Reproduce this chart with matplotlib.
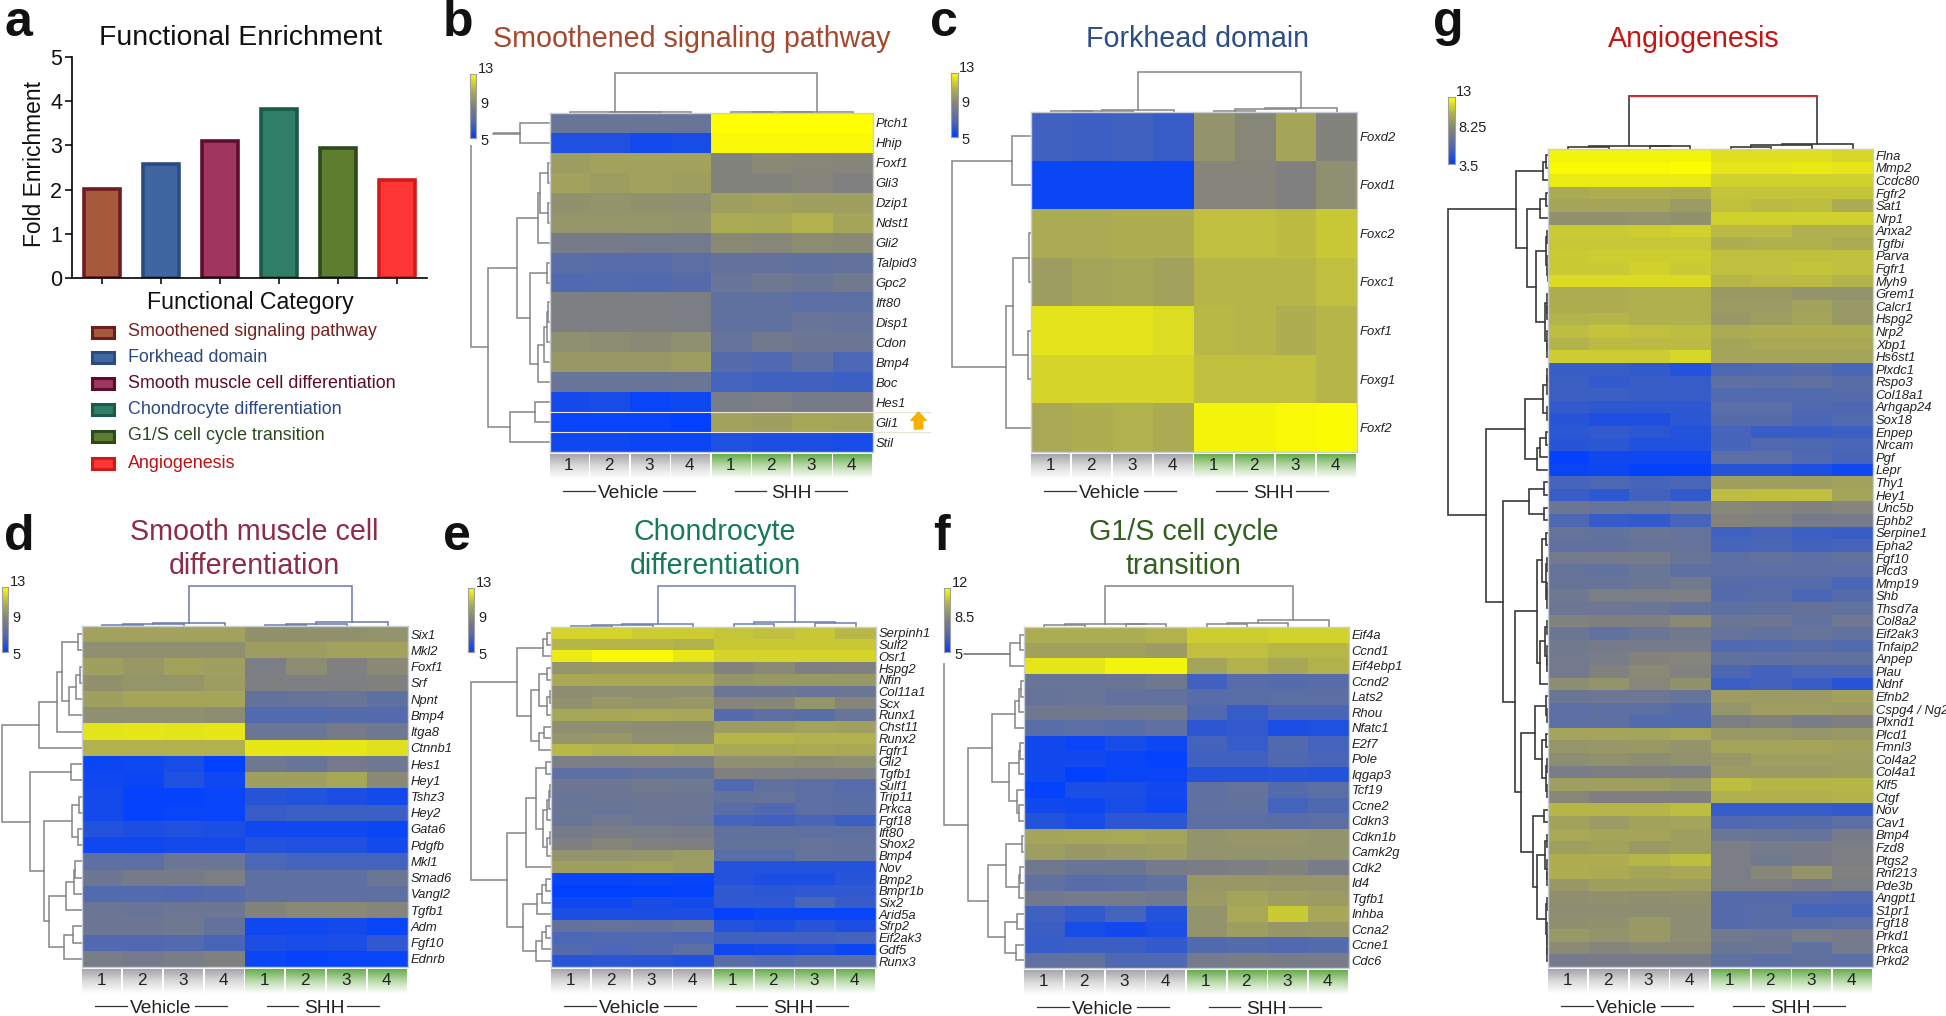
import numpy as np
import matplotlib
matplotlib.use("Agg")
import matplotlib.pyplot as plt
from matplotlib.colors import LinearSegmentedColormap, TwoSlopeNorm
from matplotlib.patches import Rectangle

plt.rcParams['font.family'] = ['Liberation Sans', 'DejaVu Sans']

W = 1946
H = 1016

# panel a
categories = ["Smoothened signaling pathway", "Forkhead domain", "Smooth muscle cell differentiation",
              "Chondrocyte differentiation", "G1/S cell cycle transition", "Angiogenesis"]
fold_enrichment = [2.01, 2.59, 3.09, 3.82, 2.93, 2.22]

# panel b
b_genes = ["Ptch1", "Hhip", "Foxf1", "Gli3", "Dzip1", "Ndst1", "Gli2", "Talpid3", "Gpc2", "Ift80", "Disp1",
           "Cdon", "Bmp4", "Boc", "Hes1", "Gli1", "Stil"]
b_values = [
    [8.0, 8.0, 8.0, 8.0, 13, 13, 13, 13],
    [5.8, 5.8, 5.5, 5.6, 12.8, 12.8, 12.8, 12.8],
    [10.2, 10.4, 10.4, 10.4, 9.1, 9.4, 9.3, 9.2],
    [10.4, 10.2, 10.4, 10.3, 9.1, 9.1, 9.2, 9.0],
    [9.7, 9.8, 9.7, 9.6, 10.3, 10.4, 10.3, 10.3],
    [9.9, 9.9, 9.9, 9.8, 10.8, 10.7, 11, 10.5],
    [8.6, 8.6, 8.5, 8.5, 9.4, 9.3, 9.5, 9.4],
    [7.4, 7.3, 7.3, 7.5, 7.8, 7.8, 7.7, 7.8],
    [7.0, 7.1, 7.0, 7.2, 8, 8.3, 8.1, 8.4],
    [8.9, 8.9, 8.9, 8.8, 7.7, 7.7, 7.5, 7.5],
    [8.9, 8.9, 8.9, 8.8, 7.7, 7.7, 8, 7.9],
    [9.6, 9.5, 9.4, 9.6, 7.9, 8.4, 8.2, 8.1],
    [10, 10, 10, 10.2, 7.2, 7.0, 7.6, 6.9],
    [8, 8, 8, 8.1, 6.7, 6.6, 6.6, 6.5],
    [5.5, 5.6, 5.2, 5.4, 8.7, 8.8, 8.6, 8.6],
    [5.2, 5.2, 5.2, 5, 10.4, 10.3, 10.6, 10.5],
    [5.4, 5.4, 5.3, 5.3, 5.8, 5.7, 5.7, 5.6],
]
b_tree = (79, (29, 0, 1), (62, (32, (11, (9, (1, 2, 3), (1, 4, 5)), 6),
                                (19, (2, 7, 8), (11, (5, (2, (1, 9, 10), 11), 12), 13))),
                           (39, (14, 14, 15), 16)))
b_col_tree = (40, (1, 0, (1, (1, 1, 2), 3)), (1, (1, (1, 4, 5), 6), 7))

# panel c
c_genes = ["Foxd2", "Foxd1", "Foxc2", "Foxc1", "Foxf1", "Foxg1", "Foxf2"]
c_values = [
    [6.6, 6.5, 6.6, 6.4, 9.8, 9.3, 10.5, 9.1],
    [5.3, 5.3, 5.3, 5.3, 9.2, 9.2, 9.0, 9.6],
    [10.8, 10.8, 10.9, 10.9, 11.4, 11.4, 11.3, 11.6],
    [10.2, 10.5, 10.6, 10.4, 11.1, 11.1, 11.1, 11.4],
    [12.3, 12.3, 12.3, 12.1, 11.2, 11.1, 10.9, 11.1],
    [11.9, 11.9, 11.9, 11.9, 11.4, 11.4, 11.4, 11.1],
    [10.7, 10.9, 11, 10.8, 12.7, 12.7, 12.8, 12.9],
]
c_tree = (79, (19, 0, 1), (25, (18, (2, 2, 3), (3, 4, 5)), 6))
c_col_tree = (40, (2, (1.5, (1, 0, 1), 2), 3), (4, (3, (1.5, 4, 5), 6), 7))

# panel d
d_genes = ["Six1", "Mkl2", "Foxf1", "Srf", "Npnt", "Bmp4", "Itga8", "Ctnnb1", "Hes1", "Hey1", "Tshz3", "Hey2",
           "Gata6", "Pdgfb", "Mkl1", "Smad6", "Vangl2", "Tgfb1", "Adm", "Fgf10", "Ednrb"]
d_values = [
    [10.4, 10.4, 10.4, 10.4, 9.7, 9.7, 9.7, 9.8],
    [9.6, 9.6, 9.6, 9.6, 10.2, 10.2, 10.4, 10.4],
    [10.3, 10, 10.4, 10.3, 8.8, 9.5, 9, 9.4],
    [9.7, 9.9, 9.9, 10.2, 8.9, 8.9, 8.9, 9],
    [10.3, 10.5, 10.5, 10.5, 7.8, 7.9, 8, 7.6],
    [9.6, 9.6, 9.6, 9.5, 7.1, 7.1, 7.2, 7.2],
    [12.3, 12.4, 12.3, 12.4, 8.1, 8.1, 8.6, 8.3],
    [11, 11, 11, 11, 12.4, 12.4, 12.4, 12.2],
    [5.3, 5.4, 5.6, 5.0, 8.3, 8, 8.5, 8.3],
    [5.4, 5.3, 5.8, 5.4, 10.3, 10.3, 10.6, 9.4],
    [5.5, 5.1, 5.1, 5.2, 6, 5.9, 5.7, 5.5],
    [5.5, 5.1, 5.2, 5.2, 6.4, 6.5, 6.5, 6.5],
    [5.9, 5.7, 5.8, 5.7, 5.4, 5.4, 5.4, 5.3],
    [5.4, 5.4, 5.5, 5.5, 5.9, 5.8, 5.8, 5.5],
    [7.6, 7.5, 8.1, 8.1, 6.9, 6.7, 6.7, 6.7],
    [8.2, 8.6, 8.6, 8.8, 7.6, 7.6, 7.6, 8.1],
    [7.1, 7.1, 7, 7.2, 7.6, 7.6, 7.6, 7.6],
    [8.1, 8, 8.2, 8.2, 9.1, 9.4, 9.4, 9.2],
    [8.2, 8.2, 8.3, 7.8, 5.4, 5.4, 5.5, 5.2],
    [7, 7, 7.1, 6.8, 5.7, 5.6, 5.7, 6.2],
    [8.7, 8.5, 8.7, 9, 5.3, 5.1, 5.2, 5.2],
]
d_tree = (80, (43, (25, (20, (4, 0, 1), (13, (6, (2, 2, 3), 4), 5)), 6), 7),
          (52, (11, 8, 9), (38, (10, (3, 10, 11), (4, 12, 13)),
                            (33, (16, (8, (7, 14, 15), 16), 17), (18, (9, 18, 19), 20)))))
d_col_tree = (40, (3, (2.5, (1.5, 0, 1), 2), 3), (4, (2, (1.5, 4, 5), 6), 7))

# panel e
e_genes = ["Serpinh1", "Sulf2", "Osr1", "Hspg2", "Nfin", "Col11a1", "Scx", "Runx1", "Chst11", "Runx2", "Fgfr1",
           "Gli2", "Tgfb1", "Sulf1", "Trip11", "Prkca", "Fgf18", "Ift80", "Shox2", "Bmp4", "Nov", "Bmp2", "Bmpr1b",
           "Six2", "Arid5a", "Sfrp2", "Eif2ak3", "Gdf5", "Runx3"]
e_values = [
    [11.9, 11.9, 11.7, 11.7, 11.5, 11.4, 11.6, 11.2],
    [11.1, 11.1, 11.1, 11, 11.6, 11.6, 11.6, 11.6],
    [12.5, 12.8, 12.8, 12.4, 11.9, 11.9, 11.9, 11.9],
    [9.9, 10, 10, 10, 9.1, 9.4, 8.9, 9],
    [10.7, 10.7, 10.7, 10.7, 9.9, 10, 10, 10],
    [9.5, 9.6, 9.6, 9.6, 8.1, 8.2, 8, 8.1],
    [9.7, 10, 9.9, 10, 9.2, 9.3, 9.9, 9.2],
    [10.6, 10.6, 10.7, 10.6, 7.2, 7.6, 7.4, 8],
    [9.6, 9.6, 9.5, 9.5, 10.2, 10.2, 10.4, 10.3],
    [9.9, 10, 9.6, 9.6, 11.1, 11.1, 11, 11],
    [11.2, 11, 11.1, 11, 10.7, 10.7, 10.8, 10.7],
    [8.8, 8.8, 8.8, 8.8, 9.6, 9.6, 9.5, 9.6],
    [7.6, 7.6, 7.8, 7.8, 9, 8.9, 8.9, 8.9],
    [8.2, 8.2, 8.4, 8.3, 7, 7.7, 7.5, 7.2],
    [8, 8.1, 8.2, 8.1, 7.8, 7.9, 7.5, 7.4],
    [8.1, 8, 8.1, 8.1, 7.4, 7.0, 7.5, 7.5],
    [8, 8.4, 8.1, 8, 6.7, 6.6, 6.8, 6.5],
    [8.6, 8.7, 8.7, 8.6, 7.7, 7.7, 7.6, 7.6],
    [8.9, 9.2, 9, 8.9, 7.8, 7.8, 7.9, 7.8],
    [9.8, 9.8, 9.9, 10.1, 7.4, 7.4, 7.9, 7.8],
    [10.3, 10.3, 10.4, 10.2, 5.9, 5.9, 5.9, 5.9],
    [5.2, 5.2, 5.3, 5.2, 5.9, 5.7, 5.7, 6],
    [5.0, 5, 5, 5.1, 6.2, 6.1, 6.2, 6.2],
    [5.4, 5.4, 5.6, 5.5, 6.2, 6.2, 6.8, 6.4],
    [5.7, 5.7, 5.7, 5.7, 5.1, 5.3, 5.2, 5.2],
    [7.8, 7.9, 7.8, 8, 5.9, 5.7, 6, 5.7],
    [6.9, 7, 7, 6.9, 6.6, 6.6, 6.6, 6.7],
    [7.1, 6.9, 7, 7.5, 5.4, 5.5, 5.6, 5.3],
    [6, 6.1, 6, 5.8, 7.4, 7.1, 7.4, 7.4],
]
e_tree = (80, (34, (8, (4, 0, 1), 2), (20, (12, (4, 3, 4), (4, (1, 5, 6), 7)), (12, (7, 8, 9), 10))),
          (44, (25, (15, (5, 11, 12), (8, (4, (2, (1, 13, 14), 15), 16), (4, (1, 17, 18), 19))), 20),
           (28, (14, (9, (5, 21, 22), 23), 24), (15, (9, (5, 25, 26), 27), 28))))
e_col_tree = (41, (3, (2.5, (1.5, 0, 1), 2), 3), (5, (3, 4, 5), (4, 6, 7)))

# panel f
f_genes = ["Eif4a", "Ccnd1", "Eif4ebp1", "Ccnd2", "Lats2", "Rhou", "Nfatc1", "E2f7", "Pole", "Iqgap3", "Tcf19",
           "Ccne2", "Cdkn3", "Cdkn1b", "Camk2g", "Cdk2", "Id4", "Tgfb1", "Inhba", "Ccna2", "Ccne1", "Cdc6"]
f_values = [
    [10.1, 10.1, 10.1, 10.3, 10.9, 10.9, 11, 11],
    [9.7, 9.7, 9.7, 9.5, 10.6, 10.6, 10.4, 10.4],
    [11.4, 11.4, 11.7, 11.7, 9.8, 10.3, 9.9, 10.3],
    [7.6, 7.6, 7.7, 7.9, 6.4, 7, 6.9, 7],
    [7.5, 7.6, 7.4, 7.4, 7, 7.1, 7.2, 7.2],
    [7.9, 7.9, 7.9, 8, 6.8, 6.2, 6.6, 6.6],
    [7.1, 7.2, 7.1, 7.3, 6, 6.1, 5.6, 5.7],
    [5.4, 5.2, 5.5, 5.3, 6.5, 6.2, 6.8, 6.5],
    [5.4, 5.4, 5.2, 5.1, 6.4, 6.4, 6.7, 6.6],
    [5.4, 5, 5.2, 5.2, 5.8, 5.8, 5.9, 5.8],
    [5.1, 5.6, 5.6, 5.4, 7.3, 7.5, 6.9, 7.2],
    [5.4, 5.3, 5.5, 5.3, 7.3, 7.4, 6.5, 6.7],
    [5.8, 5.5, 6, 6, 7.2, 7.2, 7.1, 7.2],
    [9.8, 9.9, 10, 9.8, 9.2, 9.3, 9.3, 9.2],
    [9.6, 9.4, 9.5, 9.6, 9.2, 9.2, 9.2, 9.2],
    [7.9, 7.7, 7.7, 8.1, 8.3, 8.4, 8.6, 8.2],
    [7.3, 7, 7.1, 7.3, 9.4, 9.4, 9.3, 9.3],
    [8, 8.1, 8.1, 8, 9.5, 9.8, 9.6, 9.5],
    [6.4, 6.1, 6.5, 5.8, 9.2, 10, 10.8, 9.9],
    [6.3, 5.5, 5.4, 5.6, 9.2, 9.6, 9.3, 9.4],
    [6.2, 6.3, 6.3, 6.1, 6.8, 6.9, 6.8, 6.9],
    [7.3, 7.4, 6.7, 6.7, 8.1, 8.3, 8.2, 8.2],
]
f_tree = (80, (14, (4, 0, 1), 2),
          (56, (32, (9, (5, (3, 3, 4), 5), 6), (15, (5, (4, 7, 8), 9), (7, 10, (5, 11, 12)))),
           (36, (18, (2, 13, 14), (5, (4, 15, 16), 17)), (19, (7, 18, 19), (8, 20, 21)))))
f_col_tree = (41, (3, (2, 0, 1), (3, 2, 3)), (7, (4, (3, 4, 5), 6), 7))

# panel g
g_genes = ["Flna", "Mmp2", "Ccdc80", "Fgfr2", "Sat1", "Nrp1", "Anxa2", "Tgfbi", "Parva", "Fgfr1", "Myh9", "Grem1",
           "Calcr1", "Hspg2", "Nrp2", "Xbp1", "Hs6st1", "Plxdc1", "Rspo3", "Col18a1", "Arhgap24", "Sox18", "Enpep",
           "Nrcam", "Pgf", "Lepr", "Thy1", "Hey1", "Unc5b", "Ephb2", "Serpine1", "Epha2", "Fgf10", "Plcd3", "Mmp19",
           "Shb", "Thsd7a", "Col8a2", "Eif2ak3", "Tnfaip2", "Anpep", "Plau", "Ndnf", "Efnb2", "Cspg4 / Ng2", "Plxnd1",
           "Plcd1", "Fmnl3", "Col4a2", "Col4a1", "Klf5", "Ctgf", "Nov", "Cav1", "Bmp4", "Fzd8", "Ptgs2", "Rnf213",
           "Pde3b", "Angpt1", "S1pr1", "Fgf18", "Prkd1", "Prkca", "Prkd2"]
g_values = [
    [12.6, 12.6, 12.6, 12.6, 12, 12, 12, 11.8],
    [12.8, 12.8, 12.8, 12.9, 12.2, 12.2, 12.3, 12.2],
    [12.4, 12.4, 12.4, 12.4, 11.6, 11.6, 11.6, 11.6],
    [10.3, 10.5, 10.5, 10.4, 11.2, 11.2, 11.2, 11.2],
    [10.1, 10.1, 10.1, 9.6, 11.1, 10.9, 11, 10.4],
    [9.1, 9.1, 9.2, 9.1, 11.6, 11.6, 11.6, 11.6],
    [11.4, 11.4, 11.5, 11.6, 10.9, 10.9, 10.6, 10.6],
    [11.3, 11.3, 11.3, 11.3, 10.5, 10.6, 10.6, 10.4],
    [11.4, 11.5, 11.5, 11.5, 11.1, 11.1, 11.1, 11.1],
    [11.4, 11.4, 11.6, 11.4, 11.1, 11.1, 11.2, 11.1],
    [11.9, 11.9, 11.9, 11.9, 10.8, 10.9, 10.9, 10.7],
    [10.5, 10.5, 10.6, 10.6, 9.5, 9.5, 9.2, 9.2],
    [10.5, 10.5, 10.6, 10.6, 9.6, 9.6, 9.9, 9.5],
    [10.7, 10.8, 10.6, 10.6, 9.4, 9.7, 10.1, 9.5],
    [11, 11.2, 11.1, 11, 10.4, 10.5, 10.5, 10.5],
    [10.7, 10.9, 10.9, 10.9, 10.1, 10.2, 10.2, 10.2],
    [11.5, 11.5, 11.5, 11.8, 10, 10.1, 10.1, 10.1],
    [5.2, 5.2, 5, 4.6, 5.8, 5.9, 6.1, 5.7],
    [5.3, 5, 5.2, 5.1, 6.6, 6.5, 6.7, 6.3],
    [5.3, 5.3, 5.2, 5.2, 6, 6, 6, 6.1],
    [5, 4.9, 4.9, 4.9, 6.4, 6.4, 5.9, 5.8],
    [4.7, 4.4, 4.4, 4.8, 6.2, 6.2, 5.7, 6],
    [4.8, 5, 4.8, 4.6, 5.6, 5.2, 5.2, 5.3],
    [4.7, 4.8, 4.5, 4.5, 5.6, 5.9, 5.8, 5.7],
    [3.6, 4, 4, 4, 6.4, 6.4, 5.9, 5.6],
    [3.8, 3.9, 3.6, 3.6, 4.7, 4.7, 4.4, 4],
    [5.6, 5.8, 5.6, 5.7, 9.8, 9.8, 9.7, 9.9],
    [5.2, 4.9, 5.5, 5, 11, 11.1, 11.1, 10],
    [7.2, 6.9, 6.9, 7.2, 8.6, 8.5, 8.3, 8.5],
    [5.8, 5.1, 5, 5.6, 8.4, 8.3, 7.8, 7.7],
    [6.9, 6.8, 7.1, 6.9, 5.4, 5.6, 5.3, 5.2],
    [6.7, 6.7, 6.9, 6.9, 5.6, 5.7, 5.5, 5.6],
    [7.6, 7.7, 7.7, 7.1, 6.5, 6.8, 6.5, 6.8],
    [6.9, 6.8, 7.2, 6.6, 6.5, 6.5, 6.5, 6.4],
    [7, 7, 7.2, 7.5, 6.2, 6.1, 6.1, 5.7],
    [7.4, 8, 8, 8.1, 6.2, 6.3, 5.7, 6.2],
    [7.2, 7.3, 7.2, 6.9, 6.6, 6.7, 6.9, 6.8],
    [8.3, 8.2, 8.2, 8.7, 7.2, 7.3, 6.8, 7.4],
    [7.2, 6.8, 7.2, 7.5, 6.9, 6.8, 7, 6.8],
    [7.5, 7.7, 7.7, 7.7, 5.9, 6, 6.3, 6],
    [7.6, 7.9, 8.4, 8.5, 6.7, 6.6, 6.7, 6.7],
    [7.6, 8.3, 8.7, 8.3, 5.8, 5.5, 5.7, 5.8],
    [8.9, 9.2, 8.6, 9.1, 5.3, 5.5, 5.2, 4.7],
    [7.2, 7.3, 7.3, 7, 9.6, 9.6, 9.6, 9.9],
    [6.5, 6.6, 6.5, 6.2, 9.3, 9.7, 9.7, 9.6],
    [6.5, 6.6, 6, 6, 8.1, 8.3, 7.9, 8.2],
    [10, 10, 10, 10.2, 9.5, 9.5, 9.3, 9.5],
    [9.3, 9.4, 9.5, 9.2, 10.1, 10.1, 10.1, 9.9],
    [8.9, 9.1, 8.9, 9.1, 9.4, 9.8, 9.8, 9.8],
    [7.9, 8.1, 8.2, 8, 9.6, 9.6, 9.6, 9.7],
    [9.7, 9.7, 9.7, 9.5, 11, 10.8, 10.8, 10.8],
    [8.6, 8.2, 8.2, 8.2, 10.6, 10.6, 10.6, 10.7],
    [10.8, 10.8, 10.8, 11, 5.1, 5.1, 5.1, 5],
    [9.9, 9.6, 9.9, 10, 5.9, 6, 6.2, 6.5],
    [10.2, 10.1, 10.1, 9.8, 7.2, 7.1, 6.9, 7.8],
    [9.8, 9.9, 9.5, 9.7, 8, 7.7, 7.8, 8],
    [10.5, 10.5, 10.8, 11, 8, 7.5, 7.8, 8.1],
    [10.5, 10.4, 10.1, 10.2, 8, 8.6, 9.2, 8.3],
    [9.4, 9.8, 9.8, 9.7, 8, 8.1, 7.8, 8],
    [9, 9.1, 9, 9.1, 6.2, 6.2, 6.1, 5.9],
    [8.9, 8.9, 8.9, 8.9, 6.1, 6.3, 5.6, 5.6],
    [9, 9.1, 9.5, 8.9, 6.2, 6.3, 6.3, 6.4],
    [9.5, 9.2, 9.5, 8.9, 7.5, 7.3, 7.9, 7.8],
    [8.8, 8.5, 8.7, 8.7, 7.1, 7.3, 6.7, 7.6],
    [7.7, 7.8, 7.8, 7.7, 6.7, 6.5, 6.7, 6.4],
]
g_tree = (100,
          (32, (5, (2, 0, 1), 2),
           (21, (8, (2, 3, 4), 5),
            (12, (2, (1, 6, 7), (1, 8, (0.5, 9, 10))), (3, (1.5, 11, (1, 12, 13)), (1.5, 14, (1, 15, 16)))))),
          (62, (23, (5, (1.5, (1, 17, 18), 19), (1.5, 20, 21)), (11, (8, (2, 22, 23), 24), 25)),
           (45, (19, (4, 26, 27), (4, 28, 29)),
            (33, (11, (6, (2, 30, 31), (2, (1, 32, 33), (1, (0.7, 34, 35), 36))),
                  (8, (3.5, (1.5, 37, 38), (1.5, 39, (1, 40, 41))), 42)),
             (27, (13, (2, 43, (1, 44, 45)), (6, (2, 46, 47), (2, (1, 48, 49), (1, 50, 51)))),
              (15, (4, 52, 53), (11, (3, (1.5, 54, 55), (1.5, 56, (1, 57, 58))),
                                 (2, (1, 59, 60), (1.5, 61, (1, 62, (0.7, 63, 64)))))))))))
g_col_tree = (53, (3, (2, 0, 1), (3, 2, 3)), (5, (4, (2, 4, 5), 6), 7))

GENE_FONT = 9.4
# duller in the mid tones than a straight blue-grey-yellow ramp
heat_cmap = LinearSegmentedColormap.from_list(
    "heat", [(0, "#0040FF"), (0.25, "#5069B0"), (0.5, "#808080"), (0.75, "#B0B04E"), (1, "#FFFF00")])

fig = plt.figure(figsize=(W / 100, H / 100), dpi=100, facecolor="white")


def px_axes(x0, y0, x1, y1, zorder=1):
    return fig.add_axes([x0 / W, 1 - y1 / H, (x1 - x0) / W, (y1 - y0) / H], zorder=zorder)


overlay = px_axes(0, 0, W, H, zorder=3)
overlay.set_xlim(0, W)
overlay.set_ylim(H, 0)
overlay.axis("off")
overlay.patch.set_alpha(0)


def draw_tree(ax, node, vertical, colour, lw, root_colour=None):
    # node is (height, child, child), a plain int is a leaf
    if not isinstance(node, tuple):
        return node + 0.5, 0
    height, left, right = node
    p1, h1 = draw_tree(ax, left, vertical, colour, lw)
    p2, h2 = draw_tree(ax, right, vertical, colour, lw)
    xs = [h1, height, height, h2]
    ys = [p1, p1, p2, p2]
    if vertical:
        ax.plot(ys, xs, color=colour, lw=lw, clip_on=False, solid_joinstyle="miter")
        if root_colour:
            ax.plot(ys[1:3], xs[1:3], color=root_colour, lw=lw * 0.8, clip_on=False)
    else:
        ax.plot(xs, ys, color=colour, lw=lw, clip_on=False, solid_joinstyle="miter")
    return (p1 + p2) / 2, height


def draw_panel(genes, values, tree, col_tree, box, vmin, vmid, vmax, bar_box, bar_labels, tree_colour="#858585",
               col_colour=None, lw=1.1, root_colour=None):
    L, T, R, B = box
    n_rows = len(genes)
    norm = TwoSlopeNorm(vcenter=vmid, vmin=vmin, vmax=vmax)

    ax = px_axes(L, T, R, B, zorder=2)
    ax.pcolormesh(np.arange(9), np.arange(n_rows + 1), np.array(values), cmap=heat_cmap, norm=norm,
                  edgecolors="none", antialiased=False)
    ax.set_xlim(0, 8)
    ax.set_ylim(n_rows, 0)
    ax.set_xticks([])
    ax.yaxis.tick_right()
    ax.set_yticks(np.arange(n_rows) + 0.5)
    ax.set_yticklabels(genes, fontsize=GENE_FONT, style="italic", color="#222222")
    ax.tick_params(axis="y", length=0, pad=2)
    for s in ax.spines.values():
        s.set_color("#C9CDD6")
        s.set_linewidth(1.0)

    # row and column dendrograms
    span = tree[0] + 2
    tax = px_axes(L - span, T, L, B, zorder=1)
    tax.set_xlim(span, 0)
    tax.set_ylim(n_rows, 0)
    tax.axis("off")
    draw_tree(tax, tree, False, tree_colour, lw)

    top = col_tree[0] + 2
    cax = px_axes(L, T - top, R, T, zorder=1)
    cax.set_xlim(0, 8)
    cax.set_ylim(0, top)
    cax.axis("off")
    draw_tree(cax, col_tree, True, col_colour or tree_colour, lw, root_colour)

    # colour key
    bx0, by0, bx1, by1 = bar_box
    bar = px_axes(bx0, by0, bx1, by1, zorder=4)
    bar.imshow(np.linspace(vmax, vmin, 256).reshape(-1, 1), cmap=heat_cmap, norm=norm, aspect="auto")
    bar.set_xticks([])
    bar.set_yticks([])
    for s in bar.spines.values():
        s.set_color("#A0A0A0")
        s.set_linewidth(0.8)
    fs = 10.5
    overlay.text(bx0 + 8, by0 - 5, bar_labels[0], fontsize=fs, va="center", color="#222222")
    overlay.text(bx0 + 10, (by0 + by1) / 2 - 2, bar_labels[1], fontsize=fs, va="center", color="#222222")
    overlay.text(bx0 + 10, by1 + 3, bar_labels[2], fontsize=fs, va="center", color="#222222")

    # sample header strip
    strip = px_axes(L, B + 2, R, B + 27, zorder=2)
    grey_fade = LinearSegmentedColormap.from_list("gf", ["#A6A6AC", "#DCDCDC", "#FFFFFF"])
    green_fade = LinearSegmentedColormap.from_list("gn", ["#68AE4E", "#BEDCB0", "#FFFFFF"])
    grad = np.linspace(0, 1, 32).reshape(-1, 1)
    for i in range(8):
        strip.imshow(grad, cmap=grey_fade if i < 4 else green_fade, aspect="auto",
                     extent=(i + 0.01, i + 0.96, 1, 0))
        strip.text(i + 0.47, 0.46, str(i % 4 + 1), fontsize=12.3, ha="center", va="center", color="#222222")
    strip.set_xlim(0, 8)
    strip.set_ylim(1, 0)
    strip.axis("off")

    # group captions
    for text, cx, spans in [("Vehicle", 79, [(13, 45), (113, 145)]), ("SHH", 242, [(185, 216), (265, 297)])]:
        overlay.text(L + cx, B + 46, text, fontsize=13.8, ha="center", va="baseline", color="#222222")
        for a, b in spans:
            overlay.plot([L + a, L + b], [B + 39, B + 39], color="#333333", lw=0.9)


# panel a
ax_a = px_axes(72, 57, 427, 278, zorder=2)
bar_faces = ["#A65A3C", "#3F66A0", "#9E3660", "#2E7F66", "#5F7D2E", "#FF3636"]
bar_edges = ["#6E1C22", "#2C4A80", "#5E0C2E", "#1A5A48", "#2C4A1E", "#D01A1A"]
ax_a.bar(range(6), fold_enrichment, width=0.61, color=bar_faces, edgecolor=bar_edges, linewidth=2.6)
ax_a.set_xlim(-0.51, 5.51)
ax_a.set_ylim(0, 5)
ax_a.set_xticks(range(6))
ax_a.set_xticklabels([])
ax_a.set_yticks(range(6))
ax_a.tick_params(axis="y", labelsize=15.5, length=5, width=1.2, pad=2, colors="#111111")
ax_a.tick_params(axis="x", length=4, width=1.2, color="#111111")
ax_a.spines["top"].set_visible(False)
ax_a.spines["right"].set_visible(False)
ax_a.spines["left"].set_linewidth(1.2)
ax_a.spines["bottom"].set_linewidth(1.2)
overlay.text(241, 45, "Functional Enrichment", fontsize=20.4, ha="center", va="baseline", color="#111111")
overlay.text(35, 164, "Fold Enrichment", fontsize=16.4, rotation=90, ha="center", va="center", color="#111111")
overlay.text(250, 309, "Functional Category", fontsize=16.7, ha="center", va="baseline", color="#111111")

legend_y = [332, 357, 383, 409, 436, 463]
legend_text = ["#7A1F1F", "#2C4A80", "#5E0C2E", "#2C4A80", "#2C4A1E", "#C01010"]
for i, name in enumerate(categories):
    overlay.add_patch(Rectangle((92, legend_y[i] - 5.5), 22, 11, facecolor=bar_faces[i], edgecolor=bar_edges[i], lw=2.2))
    overlay.text(128, legend_y[i], name, fontsize=12.85, va="center", color=legend_text[i])

# heat maps
draw_panel(b_genes, b_values, b_tree, b_col_tree, (549.5, 113, 873, 452), 5, 9, 13, (470, 74, 476, 138), ("13", "9", "5"))
draw_panel(c_genes, c_values, c_tree, c_col_tree, (1031, 112, 1357, 452), 5, 9, 13, (951, 73, 958, 137), ("13", "9", "5"))
draw_panel(d_genes, d_values, d_tree, d_col_tree, (82, 626, 408, 967), 5, 9, 13, (2, 587, 8, 652), ("13", "9", "5"),
           col_colour="#6A78A8")
draw_panel(e_genes, e_values, e_tree, e_col_tree, (551, 627, 876, 967), 5, 9, 13, (468, 588, 474, 652), ("13", "9", "5"),
           col_colour="#7080A8")
draw_panel(f_genes, f_values, f_tree, f_col_tree, (1024, 627, 1349, 968), 5, 8.5, 12, (944, 588, 950, 652), ("12", "8.5", "5"))
draw_panel(g_genes, g_values, g_tree, g_col_tree, (1548, 149, 1873, 967), 3.5, 8.25, 13, (1448, 97, 1455, 164),
           ("13", "8.25", "3.5"), tree_colour="#3A3A3A", lw=1.2, root_colour="#D03030")

# white boxes behind colour keys that sit over the root branch
overlay.add_patch(Rectangle((465, 68), 28, 77, facecolor="white", edgecolor="none"))
overlay.plot([493, 520], [134, 134], color="#858585", lw=1.1)
overlay.add_patch(Rectangle((940, 582), 24, 81, facecolor="white", edgecolor="none"))
overlay.plot([964, 1010], [654, 654], color="#858585", lw=1.1)

# Gli1 marker
overlay.plot([549.5, 930], [411.5, 411.5], color="#E8E4D8", lw=0.8)
overlay.plot([549.5, 930], [431.5, 431.5], color="#E8E4D8", lw=0.8)
overlay.annotate("", xy=(918.5, 412), xytext=(918.5, 429),
                 arrowprops=dict(width=6, headwidth=11, headlength=6, color="#F5B000", shrink=0))

# panel letters
letters = [("a", 4, 36), ("b", 443, 36), ("c", 930, 36), ("d", 4, 550), ("e", 443, 550), ("f", 933, 550), ("g", 1433, 36)]
for ch, x, y in letters:
    overlay.text(x, y, ch, fontsize=36, fontweight="bold", va="baseline", color="#111111")

# panel titles
titles = [("Smoothened signaling pathway", 692, 47, "#A5482E"),
          ("Forkhead domain", 1198, 47, "#2C4D85"),
          ("Smooth muscle cell", 254, 540, "#8E2B45"),
          ("differentiation", 254, 574, "#8E2B45"),
          ("Chondrocyte", 715, 540, "#157A55"),
          ("differentiation", 715, 574, "#157A55"),
          ("G1/S cell cycle", 1184, 540, "#33601F"),
          ("transition", 1184, 574, "#33601F"),
          ("Angiogenesis", 1694, 47, "#C51515")]
for text, x, y, colour in titles:
    overlay.text(x, y, text, fontsize=20.6, ha="center", va="baseline", color=colour)

fig.savefig("out.png", dpi=100, facecolor="white")
